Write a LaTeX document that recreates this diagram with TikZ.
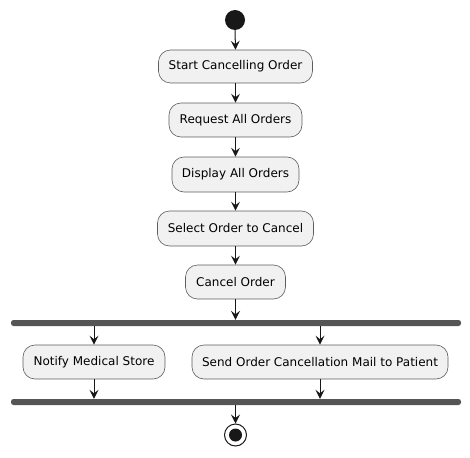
\documentclass[tikz,border=0pt]{standalone}
\usepackage{fontspec}
\setmainfont{DejaVu Sans}
\usetikzlibrary{arrows.meta}
\definecolor{linec}{HTML}{181818}
\definecolor{boxfill}{HTML}{F1F1F1}
\definecolor{barc}{HTML}{555555}
\tikzset{
  x=1pt, y=-1pt,
  act/.style={draw=linec!70, line width=0.6pt, fill=boxfill, rounded corners=12pt, inner sep=0pt, font=\fontsize{12}{14}\selectfont, text=black},
  flow/.style={draw=linec, line width=1pt, -{Stealth[length=9pt,width=9pt,inset=3.5pt]}},
  bar/.style={fill=barc, rounded corners=2.5pt, draw=none},
}
\begin{document}
\begin{tikzpicture}
\useasboundingbox (0,0) rectangle (470,457);
\fill[linec] (235,20) circle (10) coordinate (start);
\node[circle, minimum size=20pt, inner sep=0pt] (st) at (235,20) {};
\node[act, minimum width=154pt, minimum height=33pt] (a1) at (235.5,66.5) {Start Cancelling Order};
\node[act, minimum width=133pt, minimum height=34pt] (a2) at (235.5,120) {Request All Orders};
\node[act, minimum width=127pt, minimum height=35pt] (a3) at (235.5,174.5) {Display All Orders};
\node[act, minimum width=156pt, minimum height=35pt] (a4) at (235.5,228.5) {Select Order to Cancel};
\node[act, minimum width=100pt, minimum height=34pt] (a5) at (235.5,282) {Cancel Order};
\node[bar, minimum width=450pt, minimum height=6pt, inner sep=0pt] (f1) at (236,323) {};
\node[act, minimum width=142pt, minimum height=34pt] (b1) at (94,362) {Notify Medical Store};
\node[act, minimum width=256pt, minimum height=34pt] (b2) at (320,362) {Send Order Cancellation Mail to Patient};
\node[bar, minimum width=450pt, minimum height=6pt, inner sep=0pt] (f2) at (236,402) {};
\node[circle, draw=linec, line width=1pt, fill=white, minimum size=22pt, inner sep=0pt] (en) at (235.5,435) {};
\fill[linec] (en.center) circle (6.5);
\draw[flow] (st.south) -- (a1.north);
\draw[flow] (a1) -- (a2);
\draw[flow] (a2) -- (a3);
\draw[flow] (a3) -- (a4);
\draw[flow] (a4) -- (a5);
\draw[flow] (a5.south) -- (a5.south |- f1.north);
\draw[flow] (b1.north |- f1.south) -- (b1.north);
\draw[flow] (b2.north |- f1.south) -- (b2.north);
\draw[flow] (b1.south) -- (b1.south |- f2.north);
\draw[flow] (b2.south) -- (b2.south |- f2.north);
\draw[flow] (en.north |- f2.south) -- (en.north);
\end{tikzpicture}
\end{document}
